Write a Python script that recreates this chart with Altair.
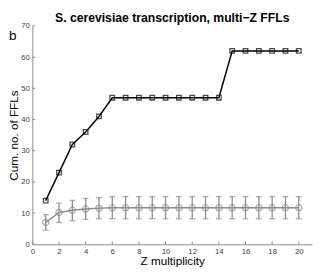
import altair as alt
import pandas as pd

z = list(range(1, 21))
real = [14, 23, 32, 36, 41, 47, 47, 47, 47, 47, 47, 47, 47, 47, 62, 62, 62, 62, 62, 62]
rand_mean = [7.0, 10.2, 10.9, 11.3, 11.6, 11.7, 11.7, 11.7, 11.7, 11.7,
             11.7, 11.7, 11.7, 11.7, 11.7, 11.7, 11.7, 11.7, 11.7, 11.7]
rand_lo = [4.5, 7.0, 7.6, 8.0, 8.2, 8.2, 8.2, 8.2, 8.2, 8.2,
           8.2, 8.2, 8.2, 8.2, 8.2, 8.2, 8.2, 8.2, 8.2, 8.2]
rand_hi = [9.5, 13.2, 14.1, 14.7, 15.0, 15.3, 15.3, 15.3, 15.3, 15.3,
           15.3, 15.3, 15.3, 15.3, 15.3, 15.3, 15.3, 15.3, 15.3, 15.3]
xticks = list(range(0, 21, 2))
yticks = list(range(0, 71, 10))

df = pd.DataFrame({"z": z, "real": real, "m": rand_mean, "lo": rand_lo, "hi": rand_hi})
dfx = pd.DataFrame({"v": xticks})
dfy = pd.DataFrame({"v": yticks})

W, H = 287, 224
FONT = "Liberation Sans"
GRAY = "#8c8c8c"

xs = alt.Scale(domain=[0, 21], nice=False)
ys = alt.Scale(domain=[0, 70], nice=False)

xaxis = alt.Axis(values=xticks, tickCount=11, title="Z multiplicity", grid=False, ticks=False,
                 labelOverlap=False, labelFlush=False,
                 domainColor=GRAY, labelColor="#444", labelFontSize=8, labelPadding=3,
                 titleFontSize=12, titleFontWeight="normal", titleColor="black", titlePadding=1,
                 labelFont=FONT, titleFont=FONT)
yaxis = alt.Axis(values=yticks, tickCount=8, title="Cum. no. of FFLs", grid=False, ticks=False,
                 labelOverlap=False, labelFlush=False,
                 domainColor=GRAY, labelColor="#444", labelFontSize=8, labelPadding=3,
                 titleFontSize=12, titleFontWeight="normal", titleColor="black", titlePadding=0,
                 labelFont=FONT, titleFont=FONT)


def X(f):
    return alt.X(f, scale=xs, axis=xaxis)


def Y(f):
    return alt.Y(f, scale=ys, axis=yaxis)


base = alt.Chart(df)

err = base.mark_rule(color=GRAY, strokeWidth=1.3).encode(
    x=X("z:Q"), y=Y("lo:Q"), y2="hi:Q")
cap_lo = base.mark_tick(color=GRAY, orient="horizontal", size=6, thickness=1.3).encode(
    x=X("z:Q"), y=Y("lo:Q"))
cap_hi = base.mark_tick(color=GRAY, orient="horizontal", size=6, thickness=1.3).encode(
    x=X("z:Q"), y=Y("hi:Q"))
rline = base.mark_line(color=GRAY, strokeWidth=1.5).encode(x=X("z:Q"), y=Y("m:Q"))
rpts = base.mark_point(shape="circle", filled=False, color=GRAY, size=40, strokeWidth=1.3).encode(
    x=X("z:Q"), y=Y("m:Q"))

line = base.mark_line(color="black", strokeWidth=1.5).encode(x=X("z:Q"), y=Y("real:Q"))
pts = base.mark_point(shape="square", filled=False, color="black", size=22, strokeWidth=1.3).encode(
    x=X("z:Q"), y=Y("real:Q"))

ytk = alt.Chart(dfy).mark_rule(color=GRAY, strokeWidth=1).encode(
    y=Y("v:Q"), x=alt.value(0), x2=alt.value(3))
xtk = alt.Chart(dfx).mark_rule(color=GRAY, strokeWidth=1).encode(
    x=X("v:Q"), y=alt.value(H), y2=alt.value(H - 3))

blabel = alt.Chart(pd.DataFrame({"t": ["b"]})).mark_text(
    font=FONT, fontSize=14, align="left", baseline="middle", color="black").encode(
    text="t:N", x=alt.value(-24), y=alt.value(10))

chart = alt.layer(err, cap_lo, cap_hi, rline, rpts, line, pts, ytk, xtk, blabel).properties(
    width=W, height=H,
    title=alt.TitleParams("S. cerevisiae transcription, multi\u2212Z FFLs",
                          font=FONT, fontSize=12.5, fontWeight="bold", color="black",
                          anchor="middle", offset=-2),
    autosize=alt.AutoSizeParams(type="none"),
    padding={"left": 25, "top": 15, "right": 4, "bottom": 26},
).configure_view(stroke=None)

chart.save("out.html", embed_options={"renderer": "svg", "actions": False})
